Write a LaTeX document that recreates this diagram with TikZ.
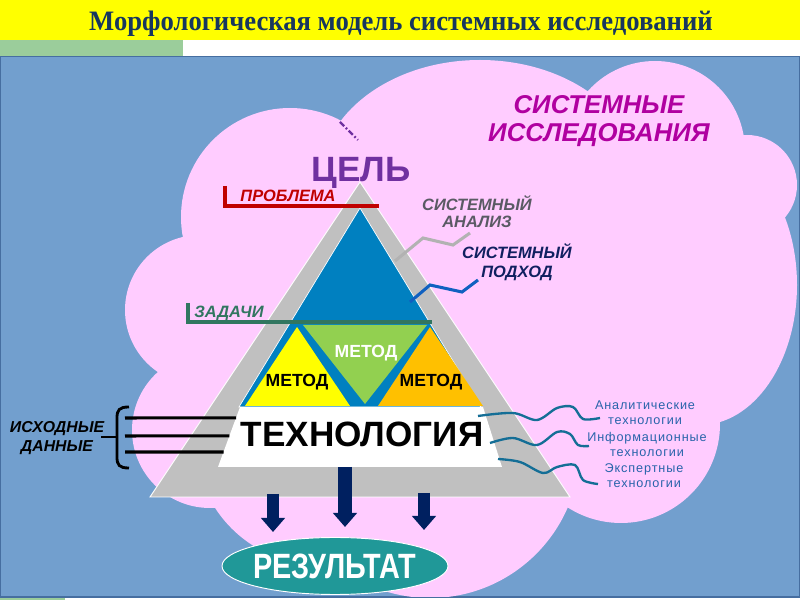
\documentclass[tikz,border=0pt]{standalone}
\usepackage{fontspec}
\setmainfont{Liberation Sans}
\newfontfamily\titlefont{Liberation Serif}
\newfontfamily\techfont[LetterSpace=7]{Liberation Sans}
\usetikzlibrary{arrows.meta,positioning,shapes.geometric,calc}

\definecolor{titlebar}{RGB}{255,255,0}
\definecolor{titleblue}{RGB}{23,55,94}
\definecolor{stripgreen}{RGB}{155,205,155}
\definecolor{panelblue}{RGB}{114,159,206}
\definecolor{panelline}{RGB}{70,110,160}
\definecolor{cloudpink}{RGB}{255,204,255}
\definecolor{pyrgray}{RGB}{192,192,192}
\definecolor{pyrblue}{RGB}{0,128,192}
\definecolor{methgreen}{RGB}{146,208,80}
\definecolor{methyellow}{RGB}{255,255,0}
\definecolor{methorange}{RGB}{255,192,0}
\definecolor{goalpurple}{RGB}{112,48,160}
\definecolor{probred}{RGB}{192,0,0}
\definecolor{taskgreen}{RGB}{49,118,96}
\definecolor{anagray}{RGB}{90,90,100}
\definecolor{analine}{RGB}{178,178,178}
\definecolor{appnavy}{RGB}{16,32,96}
\definecolor{appline}{RGB}{16,96,192}
\definecolor{resmagenta}{RGB}{176,0,160}
\definecolor{techblue}{RGB}{40,100,170}
\definecolor{waveteal}{RGB}{20,110,150}
\definecolor{arrowblue}{RGB}{0,32,96}
\definecolor{resteal}{RGB}{32,152,152}

\newcommand{\fs}[2]{\fontsize{#1}{#2}\selectfont}

\tikzset{
  lbl/.style={anchor=base,inner sep=0pt,align=center},
  bracketline/.style={line width=2.6pt},
  wave/.style={draw=waveteal,line width=2pt,smooth,tension=0.55},
  resarrow/.style={draw=arrowblue,line width=#1,-{Triangle[width=20pt,length=12pt]}}
}

\begin{document}
\begin{tikzpicture}[x=0.03cm,y=-0.03cm,>=stealth]
  \useasboundingbox (0,0) rectangle (800,600);
  \fill[white] (0,0) rectangle (800,600);
  % Title bar
  \fill[titlebar] (0,0) rectangle (800,40);
  \node[lbl,text=titleblue,font=\titlefont\bfseries\fs{24pt}{24pt},xscale=0.948] (title) at (401,31)
    {Морфологическая модель системных исследований};
  \fill[stripgreen] (0,40) rectangle (183,56);
  % Panel
  \fill[stripgreen] (0,597) rectangle (65,600);
  \filldraw[fill=panelblue,draw=panelline,line width=1.2pt] (0.6,56.5) rectangle (799.4,597);
  % Cloud
  \begin{scope}
    \clip (1.2,57.2) rectangle (798.8,596.3);
    \fill[cloudpink] (290,217) circle[radius=109]
      (480,180) ellipse[x radius=160,y radius=120]
      (655,151) circle[radius=90]
      (747,185) circle[radius=50]
      (700,285) ellipse[x radius=97,y radius=140]
      (621,424) circle[radius=99]
      (430,448) circle[radius=150]
      (320,440) circle[radius=125]
      (210,430) circle[radius=78]
      (200,310) circle[radius=75]
      (450,320) ellipse[x radius=250,y radius=200];
  \end{scope}
  \draw[goalpurple,line width=2pt,dash pattern=on 5pt off 2pt on 1.5pt off 2pt] (340,122) -- (358,140);

  % Pyramid
  \filldraw[fill=pyrgray,draw=white,line width=0.8pt] (150,497) -- (570,497) -- (360,182) -- cycle;
  \filldraw[fill=pyrblue,draw=white,line width=0.6pt] (360,208) -- (481,407) -- (239,407) -- cycle;
  \fill[methgreen] (303,325) -- (427,325) -- (365,404) -- cycle;
  \fill[methyellow] (297,327) -- (350,406) -- (245,406) -- cycle;
  \fill[methorange] (430,327) -- (483,406) -- (378,406) -- cycle;
  \coordinate (tr-nw) at (240,407);
  \coordinate (tr-ne) at (483,407);
  \coordinate (tr-se) at (502,467);
  \coordinate (tr-sw) at (218,467);
  \fill[white] (tr-nw) -- (tr-ne) -- (tr-se) -- (tr-sw) -- cycle;

  % Labels on the pyramid
  \node[lbl,text=goalpurple,font=\bfseries\fs{30pt}{30pt}] (goal) at (361,182) {ЦЕЛЬ};
  \node[lbl,font=\bfseries\fs{15pt}{15pt}] (method1) at (297,387) {МЕТОД};
  \node[lbl,text=white,font=\bfseries\fs{15pt}{15pt}] (method2) at (366,358) {МЕТОД};
  \node[lbl,font=\bfseries\fs{15pt}{15pt}] (method3) at (431,387) {МЕТОД};
  \node[lbl,font=\bfseries\fs{30pt}{30pt}] (technology) at (362,447) {ТЕХНОЛОГИЯ};

  % Problem and tasks
  \draw[bracketline,probred] (225,186) |- (379,206);
  \node[lbl,text=probred,font=\bfseries\itshape\fs{14pt}{14pt}] (problem) at (288,202) {ПРОБЛЕМА};
  \draw[bracketline,taskgreen] (188,303) |- (432,322);
  \node[lbl,text=taskgreen,font=\bfseries\itshape\fs{14pt}{14pt}] (tasks) at (229,318) {ЗАДАЧИ};

  % Systems analysis / approach
  \node[lbl,text=anagray,font=\bfseries\itshape\fs{14pt}{15.3pt}] (analysis) at (477,228)
    {СИСТЕМНЫЙ\\АНАЛИЗ};
  \coordinate (ana-s) at (395,261);
  \coordinate (ana-e) at (470,233);
  \draw[analine,line width=2.6pt] (ana-s) -- (423,238) -- (453,245) -- (ana-e);
  \node[lbl,text=appnavy,font=\bfseries\itshape\fs{14pt}{17pt}] (approach) at (517,278)
    {СИСТЕМНЫЙ\\ПОДХОД};
  \coordinate (app-s) at (410,302);
  \coordinate (app-e) at (478,280);
  \draw[appline,line width=2.6pt] (app-s) -- (430,285) -- (462,292) -- (app-e);

  \node[lbl,text=resmagenta,font=\bfseries\itshape\fs{22pt}{24.7pt}] (research) at (599,142)
    {СИСТЕМНЫЕ\\ИССЛЕДОВАНИЯ};

  % Input data
  \node[lbl,font=\bfseries\itshape\fs{13.5pt}{17pt}] (inputs) at (57,452) {ИСХОДНЫЕ\\ДАННЫЕ};
  \draw[line width=2.4pt] (129,407) .. controls (119,407) and (117,410) .. (117,418)
    -- (117,457) .. controls (117,465) and (119,468) .. (129,468);
  \draw[line width=2.4pt] (101,437) -- (117,437);
  \coordinate (in1) at (125,418);
  \coordinate (in2) at (125,436);
  \coordinate (in3) at (125,452);
  \draw[line width=2.6pt] (in1) -- ($(tr-nw)!0.18!(tr-sw)$ |- in1);
  \draw[line width=2.6pt] (in2) -- ($(tr-nw)!0.48!(tr-sw)$ |- in2);
  \draw[line width=2.6pt] (in3) -- ($(tr-nw)!0.75!(tr-sw)$ |- in3);

  % Technologies
  \node[lbl,text=techblue,font=\techfont\fs{10.8pt}{13pt}] (tech1) at (645,425) {Аналитические\\технологии};
  \node[lbl,text=techblue,font=\techfont\fs{10.8pt}{13pt}] (tech2) at (647,457) {Информационные\\технологии};
  \node[lbl,text=techblue,font=\techfont\fs{10.8pt}{13pt}] (tech3) at (644,488) {Экспертные\\технологии};
  \coordinate (w1s) at (478,416);
  \coordinate (w1e) at (600,418);
  \coordinate (w2s) at (490,443);
  \coordinate (w2e) at (589,446);
  \coordinate (w3s) at (498,459);
  \coordinate (w3e) at (598,484);
  \draw[wave] plot coordinates {(w1s) (513,413) (537,420) (557,408) (573,407) (583,419) (w1e)};
  \draw[wave] plot coordinates {(w2s) (513,438) (537,445) (557,432) (570,434) (578,445) (w2e)};
  \draw[wave] plot coordinates {(w3s) (520,462) (543,473) (557,467) (575,465) (583,480) (w3e)};

  % Result
  \node[ellipse,fill=resteal,draw=white,line width=0.8pt,inner sep=0pt,
        minimum width=6.78cm,minimum height=1.71cm,
        label={[text=white,font=\bfseries\fs{30pt}{30pt},xscale=0.82]center:РЕЗУЛЬТАТ}] (res) at (335,566) {};
  \coordinate (a1s) at (273,494);
  \coordinate (a1e) at (273,532);
  \coordinate (a2s) at (345,467);
  \coordinate (a2e) at (345,527);
  \coordinate (a3s) at (424,493);
  \coordinate (a3e) at (424,530);
  \draw[resarrow=9.5pt] (a1s) -- (a1e);
  \draw[resarrow=12pt] (a2s) -- (a2e);
  \draw[resarrow=10pt] (a3s) -- (a3e);
\end{tikzpicture}
\end{document}
